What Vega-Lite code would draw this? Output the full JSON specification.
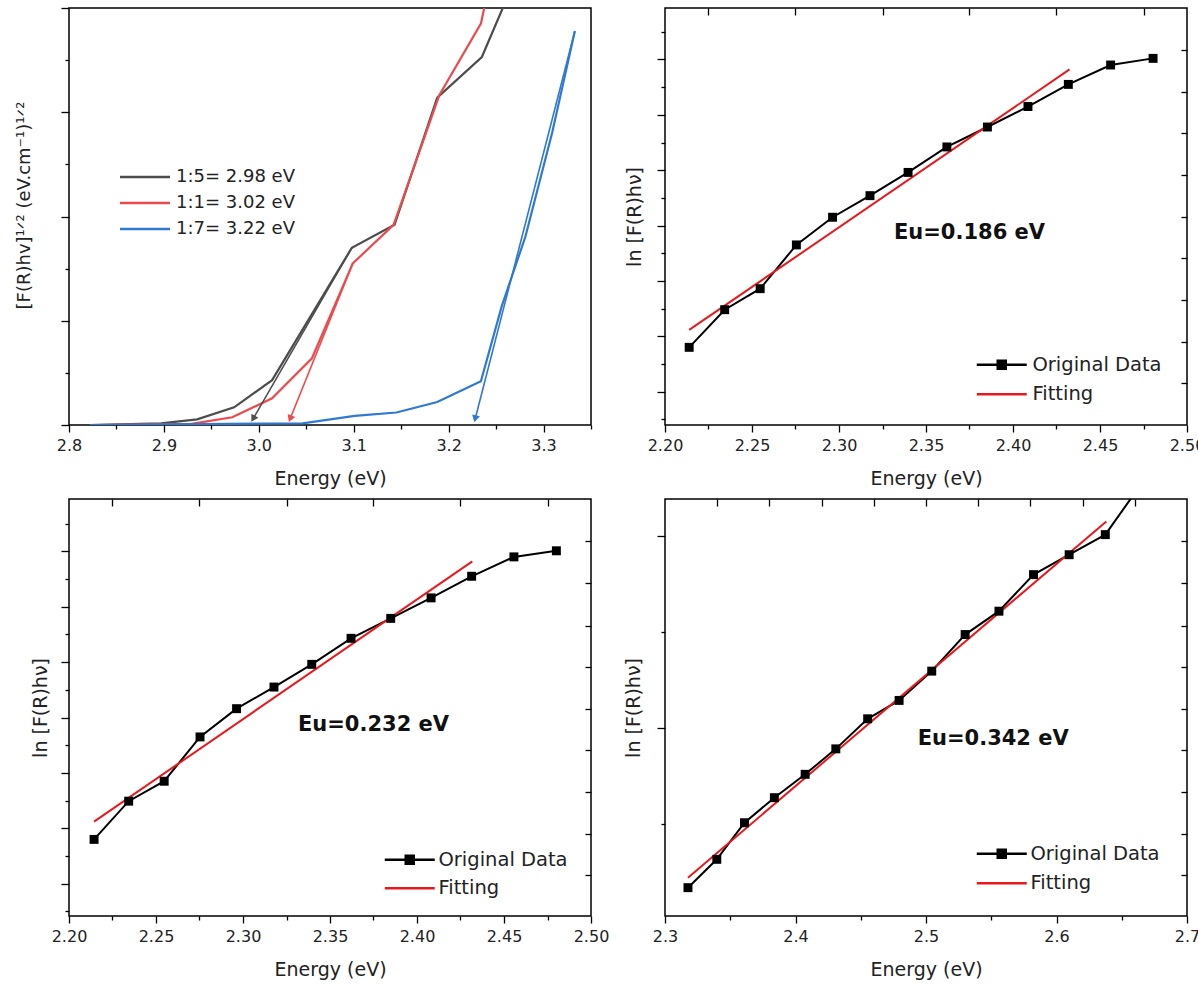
{
  "$schema": "https://vega.github.io/schema/vega-lite/v6.json",
  "background": "white",
  "padding": {"left": 14, "top": 6, "right": 0, "bottom": 0},
  "columns": 2,
  "spacing": {"row": 8, "column": 13},
  "resolve": {"scale": {"color": "independent", "stroke": "independent", "fill": "independent", "shape": "independent"}},
  "config": {
    "font": "DejaVu Sans",
    "view": {"stroke": "#000000", "strokeWidth": 1.5},
    "axis": {
      "domain": false, "grid": false, "tickColor": "#000000", "tickWidth": 1.3, "labelFlush": false,
      "labelFont": "DejaVu Sans", "labelFontSize": 16, "labelColor": "#222222", "labelPadding": 5,
      "titleFont": "DejaVu Sans", "titleFontSize": 19, "titleFontWeight": "normal", "titleColor": "#222222"
    },
    "legend": {"padding": 0, "labelFont": "DejaVu Sans", "labelFontSize": 18, "labelColor": "#222222"}
  },
  "datasets": {
    "gap": [
      {"sample": "1:5= 2.98 eV", "E": 2.822, "v": 0},
      {"sample": "1:5= 2.98 eV", "E": 2.897, "v": 0.016},
      {"sample": "1:5= 2.98 eV", "E": 2.935, "v": 0.054},
      {"sample": "1:5= 2.98 eV", "E": 2.974, "v": 0.17},
      {"sample": "1:5= 2.98 eV", "E": 3.014, "v": 0.43},
      {"sample": "1:5= 2.98 eV", "E": 3.098, "v": 1.70},
      {"sample": "1:5= 2.98 eV", "E": 3.143, "v": 1.92},
      {"sample": "1:5= 2.98 eV", "E": 3.188, "v": 3.14},
      {"sample": "1:5= 2.98 eV", "E": 3.235, "v": 3.53},
      {"sample": "1:5= 2.98 eV", "E": 3.258, "v": 4.02},
      {"sample": "1:1= 3.02 eV", "E": 2.828, "v": 0},
      {"sample": "1:1= 3.02 eV", "E": 2.929, "v": 0.01},
      {"sample": "1:1= 3.02 eV", "E": 2.972, "v": 0.074},
      {"sample": "1:1= 3.02 eV", "E": 3.014, "v": 0.256},
      {"sample": "1:1= 3.02 eV", "E": 3.056, "v": 0.64},
      {"sample": "1:1= 3.02 eV", "E": 3.099, "v": 1.55},
      {"sample": "1:1= 3.02 eV", "E": 3.142, "v": 1.92},
      {"sample": "1:1= 3.02 eV", "E": 3.190, "v": 3.16},
      {"sample": "1:1= 3.02 eV", "E": 3.234, "v": 3.85},
      {"sample": "1:1= 3.02 eV", "E": 3.238, "v": 4.02},
      {"sample": "1:7= 3.22 eV", "E": 2.822, "v": 0},
      {"sample": "1:7= 3.22 eV", "E": 3.046, "v": 0.016},
      {"sample": "1:7= 3.22 eV", "E": 3.101, "v": 0.087},
      {"sample": "1:7= 3.22 eV", "E": 3.145, "v": 0.12},
      {"sample": "1:7= 3.22 eV", "E": 3.188, "v": 0.22},
      {"sample": "1:7= 3.22 eV", "E": 3.234, "v": 0.42},
      {"sample": "1:7= 3.22 eV", "E": 3.256, "v": 1.14},
      {"sample": "1:7= 3.22 eV", "E": 3.281, "v": 1.81},
      {"sample": "1:7= 3.22 eV", "E": 3.309, "v": 2.80},
      {"sample": "1:7= 3.22 eV", "E": 3.333, "v": 3.78}
    ],
    "gaptan": [
      {"sample": "1:5= 2.98 eV", "pt": "start", "E": 3.098, "v": 1.70},
      {"sample": "1:5= 2.98 eV", "pt": "tip", "E": 2.994, "v": 0.06},
      {"sample": "1:1= 3.02 eV", "pt": "start", "E": 3.099, "v": 1.55},
      {"sample": "1:1= 3.02 eV", "pt": "tip", "E": 3.033, "v": 0.06},
      {"sample": "1:7= 3.22 eV", "pt": "start", "E": 3.333, "v": 3.78},
      {"sample": "1:7= 3.22 eV", "pt": "tip", "E": 3.228, "v": 0.06}
    ],
    "tr": [
      {"series": "Original Data", "E": 2.2139, "v": 0.80},
      {"series": "Original Data", "E": 2.2343, "v": 1.48},
      {"series": "Original Data", "E": 2.2547, "v": 1.86},
      {"series": "Original Data", "E": 2.2755, "v": 2.65},
      {"series": "Original Data", "E": 2.2963, "v": 3.15},
      {"series": "Original Data", "E": 2.3178, "v": 3.54},
      {"series": "Original Data", "E": 2.3397, "v": 3.96},
      {"series": "Original Data", "E": 2.3620, "v": 4.42},
      {"series": "Original Data", "E": 2.3853, "v": 4.78},
      {"series": "Original Data", "E": 2.4086, "v": 5.15},
      {"series": "Original Data", "E": 2.4318, "v": 5.55},
      {"series": "Original Data", "E": 2.4561, "v": 5.90},
      {"series": "Original Data", "E": 2.4805, "v": 6.02},
      {"series": "Fitting", "E": 2.2139, "v": 1.115},
      {"series": "Fitting", "E": 2.4325, "v": 5.82}
    ],
    "bl": [
      {"series": "Original Data", "E": 2.2144, "v": 0.80},
      {"series": "Original Data", "E": 2.2343, "v": 1.49},
      {"series": "Original Data", "E": 2.2547, "v": 1.85},
      {"series": "Original Data", "E": 2.2753, "v": 2.65},
      {"series": "Original Data", "E": 2.2963, "v": 3.16},
      {"series": "Original Data", "E": 2.3178, "v": 3.55},
      {"series": "Original Data", "E": 2.3395, "v": 3.96},
      {"series": "Original Data", "E": 2.3621, "v": 4.43},
      {"series": "Original Data", "E": 2.3849, "v": 4.79},
      {"series": "Original Data", "E": 2.4081, "v": 5.16},
      {"series": "Original Data", "E": 2.4314, "v": 5.55},
      {"series": "Original Data", "E": 2.4557, "v": 5.90},
      {"series": "Original Data", "E": 2.4801, "v": 6.01},
      {"series": "Fitting", "E": 2.2144, "v": 1.12},
      {"series": "Fitting", "E": 2.4318, "v": 5.82}
    ],
    "br": [
      {"series": "Original Data", "E": 2.3176, "v": -0.835},
      {"series": "Original Data", "E": 2.3397, "v": -0.687},
      {"series": "Original Data", "E": 2.3609, "v": -0.496},
      {"series": "Original Data", "E": 2.3838, "v": -0.365},
      {"series": "Original Data", "E": 2.4074, "v": -0.243},
      {"series": "Original Data", "E": 2.4309, "v": -0.110},
      {"series": "Original Data", "E": 2.4553, "v": 0.047},
      {"series": "Original Data", "E": 2.4794, "v": 0.143},
      {"series": "Original Data", "E": 2.5044, "v": 0.296},
      {"series": "Original Data", "E": 2.5300, "v": 0.487},
      {"series": "Original Data", "E": 2.5559, "v": 0.609},
      {"series": "Original Data", "E": 2.5824, "v": 0.800},
      {"series": "Original Data", "E": 2.6097, "v": 0.904},
      {"series": "Original Data", "E": 2.6374, "v": 1.009},
      {"series": "Original Data", "E": 2.6625, "v": 1.25},
      {"series": "Fitting", "E": 2.3176, "v": -0.783},
      {"series": "Fitting", "E": 2.6382, "v": 1.078}
    ]
  },
  "concat": [
    {
      "width": 522, "height": 417,
      "layer": [
        {
          "data": {"name": "gap"},
          "mark": {"type": "line", "strokeWidth": 2.2, "clip": true},
          "encoding": {
            "x": {"field": "E", "type": "quantitative",
              "scale": {"domain": [2.8, 3.35], "nice": false, "zero": false},
              "axis": {"title": "Energy (eV)", "values": [2.8, 2.85, 2.9, 2.95, 3.0, 3.05, 3.1, 3.15, 3.2, 3.25, 3.3, 3.35],
                "labelExpr": "abs(datum.value*10 - round(datum.value*10)) < 0.001 ? format(datum.value, '.1f') : ''",
                "tickSize": {"condition": {"test": "abs(datum.value*10 - round(datum.value*10)) < 0.001", "value": 7}, "value": 4},
                "titlePadding": 16}},
            "y": {"field": "v", "type": "quantitative",
              "scale": {"domain": [0, 4], "nice": false, "zero": false},
              "axis": {"title": "[F(R)hv]¹ᐟ² (eV.cm⁻¹)¹ᐟ²", "titleFontSize": 18, "titleY": 197, "labels": false, "values": [0, 0.5, 1, 1.5, 2, 2.5, 3, 3.5, 4],
                "tickSize": {"condition": {"test": "abs(datum.value - round(datum.value)) < 0.001", "value": 8}, "value": 4},
                "titlePadding": 27}},
            "color": {"field": "sample", "type": "nominal",
              "scale": {"domain": ["1:5= 2.98 eV", "1:1= 3.02 eV", "1:7= 3.22 eV"], "range": ["#4d4d4d", "#ec4a4c", "#2f79d3"]},
              "legend": {"orient": "none", "legendX": 51, "legendY": 160, "title": null, "symbolType": "M-5,0H5", "symbolSize": 100,
                "symbolStrokeWidth": 2.5, "symbolOffset": 16, "labelOffset": 22, "rowPadding": 8}}
          }
        },
        {
          "data": {"name": "gaptan"},
          "mark": {"type": "line", "strokeWidth": 1.6, "clip": true},
          "encoding": {
            "x": {"field": "E", "type": "quantitative"},
            "y": {"field": "v", "type": "quantitative"},
            "color": {"field": "sample", "type": "nominal"}
          }
        },
        {
          "data": {"name": "gaptan"},
          "transform": [{"filter": "datum.pt === 'tip' && datum.sample === '1:5= 2.98 eV'"}],
          "mark": {"type": "point", "shape": "triangle-down", "filled": true, "size": 65, "angle": 30, "color": "#4d4d4d", "opacity": 1},
          "encoding": {"x": {"field": "E", "type": "quantitative"}, "y": {"field": "v", "type": "quantitative"}}
        },
        {
          "data": {"name": "gaptan"},
          "transform": [{"filter": "datum.pt === 'tip' && datum.sample === '1:1= 3.02 eV'"}],
          "mark": {"type": "point", "shape": "triangle-down", "filled": true, "size": 65, "angle": 22, "color": "#ec4a4c", "opacity": 1},
          "encoding": {"x": {"field": "E", "type": "quantitative"}, "y": {"field": "v", "type": "quantitative"}}
        },
        {
          "data": {"name": "gaptan"},
          "transform": [{"filter": "datum.pt === 'tip' && datum.sample === '1:7= 3.22 eV'"}],
          "mark": {"type": "point", "shape": "triangle-down", "filled": true, "size": 65, "angle": 14, "color": "#2f79d3", "opacity": 1},
          "encoding": {"x": {"field": "E", "type": "quantitative"}, "y": {"field": "v", "type": "quantitative"}}
        }
      ]
    },
    {
      "width": 522, "height": 417,
      "resolve": {"axis": {"x": "independent", "y": "independent"}},
      "layer": [
        {
          "data": {"name": "tr"},
          "mark": {"type": "line", "strokeWidth": 2, "clip": true},
          "encoding": {
            "x": {"field": "E", "type": "quantitative",
              "scale": {"domain": [2.2, 2.5], "nice": false, "zero": false},
              "axis": {"orient": "bottom", "title": "Energy (eV)", "values": [2.2, 2.225, 2.25, 2.275, 2.3, 2.325, 2.35, 2.375, 2.4, 2.425, 2.45, 2.475, 2.5],
                "labelExpr": "abs(datum.value*20 - round(datum.value*20)) < 0.001 ? format(datum.value, '.2f') : ''",
                "tickSize": {"condition": {"test": "abs(datum.value*20 - round(datum.value*20)) < 0.001", "value": 7}, "value": 4},
                "titlePadding": 16}},
            "y": {"field": "v", "type": "quantitative",
              "scale": {"domain": [-0.603, 6.93], "nice": false, "zero": false},
              "axis": {"orient": "left", "title": "ln [F(R)hν]", "labels": false, "values": [-0.5, 0, 0.5, 1, 1.5, 2, 2.5, 3, 3.5, 4, 4.5, 5, 5.5, 6, 6.5],
                "tickSize": {"condition": {"test": "abs(datum.value - round(datum.value)) < 0.001", "value": 8}, "value": 4},
                "titlePadding": 12}},
            "stroke": {"field": "series", "type": "nominal",
              "scale": {"domain": ["Original Data", "Fitting"], "range": ["#000000", "#e8191e"]},
              "legend": {"orient": "none", "legendX": 312, "legendY": 347, "title": null, "labelFontSize": 19.5, "symbolSize": 100, "symbolStrokeWidth": 2.5, "symbolOffset": 15, "labelOffset": 21, "rowPadding": 8.5}}
          }
        },
        {
          "data": {"name": "tr"},
          "transform": [{"filter": "datum.series === 'Original Data'"}],
          "mark": {"type": "point", "shape": "square", "filled": true, "size": 80, "color": "#000000", "opacity": 1, "clip": true},
          "encoding": {"x": {"field": "E", "type": "quantitative", "axis": null}, "y": {"field": "v", "type": "quantitative", "axis": null}}
        },
        {
          "data": {"name": "tr"},
          "transform": [{"filter": "false"}],
          "mark": {"type": "point", "filled": true, "opacity": 1},
          "encoding": {
            "x": {"field": "E", "type": "quantitative", "scale": {"domain": [2.2, 2.5], "nice": false, "zero": false},
              "axis": {"orient": "top", "title": null, "labels": false, "values": [2.225, 2.275, 2.325, 2.375, 2.425, 2.475], "tickSize": -7}},
            "y": {"field": "v", "type": "quantitative", "scale": {"domain": [-0.603, 6.93], "nice": false, "zero": false},
              "axis": {"orient": "right", "title": null, "labels": false, "values": [0.15, 0.9, 1.66, 2.41, 3.16, 3.92, 4.67, 5.42, 6.18], "tickSize": -6}},
            "shape": {"field": "series", "type": "nominal",
              "scale": {"domain": ["Original Data", "Fitting"], "range": ["M-5,0H5M-0.8,-0.8H0.8V0.8H-0.8Z", "M-5,0H5"]},
              "legend": {"orient": "none", "legendX": 312, "legendY": 347, "title": null, "labelFontSize": 19.5, "symbolSize": 100, "symbolStrokeWidth": 2.5, "symbolOffset": 15, "labelOffset": 21, "rowPadding": 8.5}},
            "fill": {"field": "series", "type": "nominal",
              "scale": {"domain": ["Original Data", "Fitting"], "range": ["#000000", "#e8191e"]},
              "legend": {"orient": "none", "legendX": 312, "legendY": 347, "title": null, "labelFontSize": 19.5, "symbolSize": 100, "symbolStrokeWidth": 2.5, "symbolOffset": 15, "labelOffset": 21, "rowPadding": 8.5}},
            "stroke": {"field": "series", "type": "nominal",
              "legend": {"orient": "none", "legendX": 312, "legendY": 347, "title": null, "labelFontSize": 19.5, "symbolSize": 100, "symbolStrokeWidth": 2.5, "symbolOffset": 15, "labelOffset": 21, "rowPadding": 8.5}}
          }
        },
        {
          "data": {"values": [{}]},
          "mark": {"type": "text", "font": "DejaVu Sans", "fontSize": 21, "fontWeight": "bold", "color": "#111111", "align": "center", "baseline": "middle"},
          "encoding": {
            "x": {"datum": 2.375, "type": "quantitative", "axis": null},
            "y": {"datum": 2.86, "type": "quantitative", "axis": null},
            "text": {"value": "Eu=0.186 eV"}
          }
        }
      ]
    },
    {
      "width": 522, "height": 417,
      "resolve": {"axis": {"x": "independent", "y": "independent"}},
      "layer": [
        {
          "data": {"name": "bl"},
          "mark": {"type": "line", "strokeWidth": 2, "clip": true},
          "encoding": {
            "x": {"field": "E", "type": "quantitative",
              "scale": {"domain": [2.2, 2.5], "nice": false, "zero": false},
              "axis": {"orient": "bottom", "title": "Energy (eV)", "values": [2.2, 2.225, 2.25, 2.275, 2.3, 2.325, 2.35, 2.375, 2.4, 2.425, 2.45, 2.475, 2.5],
                "labelExpr": "abs(datum.value*20 - round(datum.value*20)) < 0.001 ? format(datum.value, '.2f') : ''",
                "tickSize": {"condition": {"test": "abs(datum.value*20 - round(datum.value*20)) < 0.001", "value": 7}, "value": 4},
                "titlePadding": 16}},
            "y": {"field": "v", "type": "quantitative",
              "scale": {"domain": [-0.583, 6.945], "nice": false, "zero": false},
              "axis": {"orient": "left", "title": "ln [F(R)hν]", "labels": false, "values": [-0.5, 0, 0.5, 1, 1.5, 2, 2.5, 3, 3.5, 4, 4.5, 5, 5.5, 6, 6.5],
                "tickSize": {"condition": {"test": "abs(datum.value - round(datum.value)) < 0.001", "value": 8}, "value": 4},
                "titlePadding": 10}},
            "stroke": {"field": "series", "type": "nominal",
              "scale": {"domain": ["Original Data", "Fitting"], "range": ["#000000", "#e8191e"]},
              "legend": {"orient": "none", "legendX": 316, "legendY": 351, "title": null, "labelFontSize": 19.5, "symbolSize": 100, "symbolStrokeWidth": 2.5, "symbolOffset": 15, "labelOffset": 19, "rowPadding": 7.5}}
          }
        },
        {
          "data": {"name": "bl"},
          "transform": [{"filter": "datum.series === 'Original Data'"}],
          "mark": {"type": "point", "shape": "square", "filled": true, "size": 80, "color": "#000000", "opacity": 1, "clip": true},
          "encoding": {"x": {"field": "E", "type": "quantitative", "axis": null}, "y": {"field": "v", "type": "quantitative", "axis": null}}
        },
        {
          "data": {"name": "bl"},
          "transform": [{"filter": "false"}],
          "mark": {"type": "point", "filled": true, "opacity": 1},
          "encoding": {
            "x": {"field": "E", "type": "quantitative", "scale": {"domain": [2.2, 2.5], "nice": false, "zero": false},
              "axis": {"orient": "top", "title": null, "labels": false, "values": [2.225, 2.275, 2.325, 2.375, 2.425, 2.475], "tickSize": -7}},
            "y": {"field": "v", "type": "quantitative", "scale": {"domain": [-0.583, 6.945], "nice": false, "zero": false},
              "axis": {"orient": "right", "title": null, "labels": false, "values": [0.15, 0.9, 1.65, 2.41, 3.16, 3.91, 4.66, 5.43, 6.18], "tickSize": -6}},
            "shape": {"field": "series", "type": "nominal",
              "scale": {"domain": ["Original Data", "Fitting"], "range": ["M-5,0H5M-0.8,-0.8H0.8V0.8H-0.8Z", "M-5,0H5"]},
              "legend": {"orient": "none", "legendX": 316, "legendY": 351, "title": null, "labelFontSize": 19.5, "symbolSize": 100, "symbolStrokeWidth": 2.5, "symbolOffset": 15, "labelOffset": 19, "rowPadding": 7.5}},
            "fill": {"field": "series", "type": "nominal",
              "scale": {"domain": ["Original Data", "Fitting"], "range": ["#000000", "#e8191e"]},
              "legend": {"orient": "none", "legendX": 316, "legendY": 351, "title": null, "labelFontSize": 19.5, "symbolSize": 100, "symbolStrokeWidth": 2.5, "symbolOffset": 15, "labelOffset": 19, "rowPadding": 7.5}},
            "stroke": {"field": "series", "type": "nominal",
              "legend": {"orient": "none", "legendX": 316, "legendY": 351, "title": null, "labelFontSize": 19.5, "symbolSize": 100, "symbolStrokeWidth": 2.5, "symbolOffset": 15, "labelOffset": 19, "rowPadding": 7.5}}
          }
        },
        {
          "data": {"values": [{}]},
          "mark": {"type": "text", "font": "DejaVu Sans", "fontSize": 21, "fontWeight": "bold", "color": "#111111", "align": "center", "baseline": "middle"},
          "encoding": {
            "x": {"datum": 2.375, "type": "quantitative", "axis": null},
            "y": {"datum": 2.87, "type": "quantitative", "axis": null},
            "text": {"value": "Eu=0.232 eV"}
          }
        }
      ]
    },
    {
      "width": 522, "height": 417,
      "resolve": {"axis": {"x": "independent", "y": "independent"}},
      "layer": [
        {
          "data": {"name": "br"},
          "mark": {"type": "line", "strokeWidth": 2, "clip": true},
          "encoding": {
            "x": {"field": "E", "type": "quantitative",
              "scale": {"domain": [2.3, 2.7], "nice": false, "zero": false},
              "axis": {"orient": "bottom", "title": "Energy (eV)", "values": [2.3, 2.35, 2.4, 2.45, 2.5, 2.55, 2.6, 2.65, 2.7],
                "labelExpr": "abs(datum.value*10 - round(datum.value*10)) < 0.001 ? format(datum.value, '.1f') : ''",
                "tickSize": {"condition": {"test": "abs(datum.value*10 - round(datum.value*10)) < 0.001", "value": 7}, "value": 4},
                "titlePadding": 16}},
            "y": {"field": "v", "type": "quantitative",
              "scale": {"domain": [-0.983, 1.195], "nice": false, "zero": false},
              "axis": {"orient": "left", "title": "ln [F(R)hν]", "labels": false, "values": [-0.5, 0, 0.5, 1],
                "tickSize": {"condition": {"test": "abs(datum.value - round(datum.value)) < 0.001", "value": 8}, "value": 4},
                "titlePadding": 13}},
            "stroke": {"field": "series", "type": "nominal",
              "scale": {"domain": ["Original Data", "Fitting"], "range": ["#000000", "#e8191e"]},
              "legend": {"orient": "none", "legendX": 312, "legendY": 345, "title": null, "labelFontSize": 19.5, "symbolSize": 100, "symbolStrokeWidth": 2.5, "symbolOffset": 15, "labelOffset": 19, "rowPadding": 8.5}}
          }
        },
        {
          "data": {"name": "br"},
          "transform": [{"filter": "datum.series === 'Original Data'"}],
          "mark": {"type": "point", "shape": "square", "filled": true, "size": 80, "color": "#000000", "opacity": 1, "clip": true},
          "encoding": {"x": {"field": "E", "type": "quantitative", "axis": null}, "y": {"field": "v", "type": "quantitative", "axis": null}}
        },
        {
          "data": {"name": "br"},
          "transform": [{"filter": "false"}],
          "mark": {"type": "point", "filled": true, "opacity": 1},
          "encoding": {
            "x": {"field": "E", "type": "quantitative", "scale": {"domain": [2.3, 2.7], "nice": false, "zero": false},
              "axis": {"orient": "top", "title": null, "labels": false, "values": [2.34, 2.38, 2.42, 2.46, 2.5, 2.54, 2.58, 2.62, 2.66], "tickSize": -7}},
            "y": {"field": "v", "type": "quantitative", "scale": {"domain": [-0.983, 1.195], "nice": false, "zero": false},
              "axis": {"orient": "right", "title": null, "labels": false, "values": [0.974, 0.757, 0.534, 0.317, 0.099, -0.118, -0.336, -0.553, -0.77], "tickSize": -6}},
            "shape": {"field": "series", "type": "nominal",
              "scale": {"domain": ["Original Data", "Fitting"], "range": ["M-5,0H5M-0.8,-0.8H0.8V0.8H-0.8Z", "M-5,0H5"]},
              "legend": {"orient": "none", "legendX": 312, "legendY": 345, "title": null, "labelFontSize": 19.5, "symbolSize": 100, "symbolStrokeWidth": 2.5, "symbolOffset": 15, "labelOffset": 19, "rowPadding": 8.5}},
            "fill": {"field": "series", "type": "nominal",
              "scale": {"domain": ["Original Data", "Fitting"], "range": ["#000000", "#e8191e"]},
              "legend": {"orient": "none", "legendX": 312, "legendY": 345, "title": null, "labelFontSize": 19.5, "symbolSize": 100, "symbolStrokeWidth": 2.5, "symbolOffset": 15, "labelOffset": 19, "rowPadding": 8.5}},
            "stroke": {"field": "series", "type": "nominal",
              "legend": {"orient": "none", "legendX": 312, "legendY": 345, "title": null, "labelFontSize": 19.5, "symbolSize": 100, "symbolStrokeWidth": 2.5, "symbolOffset": 15, "labelOffset": 19, "rowPadding": 8.5}}
          }
        },
        {
          "data": {"values": [{}]},
          "mark": {"type": "text", "font": "DejaVu Sans", "fontSize": 21, "fontWeight": "bold", "color": "#111111", "align": "center", "baseline": "middle"},
          "encoding": {
            "x": {"datum": 2.5515, "type": "quantitative", "axis": null},
            "y": {"datum": -0.057, "type": "quantitative", "axis": null},
            "text": {"value": "Eu=0.342 eV"}
          }
        }
      ]
    }
  ]
}
